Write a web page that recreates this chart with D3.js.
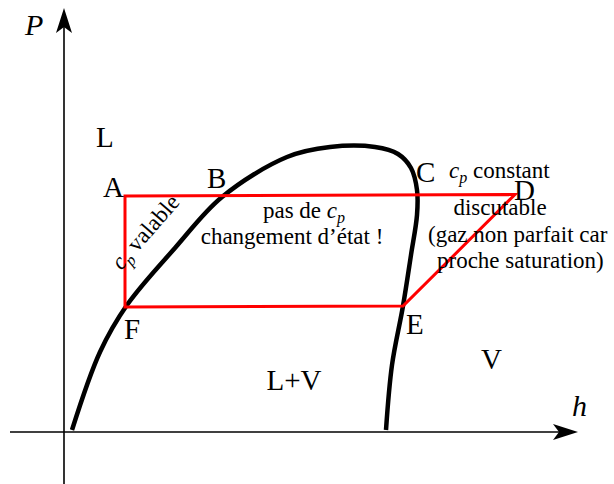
<!DOCTYPE html>
<html>
<head>
<meta charset="utf-8">
<script src="https://cdn.jsdelivr.net/npm/d3@7"></script>
<style>
  body { margin: 0; background: #fff; }
  text { font-family: "Liberation Serif", "DejaVu Serif", serif; fill: #000; }
</style>
</head>
<body>
<div id="chart"></div>
<script>
// saturation dome in (h, P) drawing units, liquid branch then vapour branch
var domeH = [8, 36, 63, 111, 158, 223, 266, 311, 334, 347, 353, 353, 347, 339, 328, 322];
var domeP = [2, 80, 127, 184, 235, 275, 285, 285, 278, 264, 242, 217, 177, 126, 67, 2];

// cycle A -> D -> E -> F
var cycleNames = ["A", "D", "E", "F"];
var cycleH = [61, 451, 339, 61];
var cycleP = [236, 237.5, 126, 125];

// set the dimensions of the graph
var width = 614,
  height = 484;

var x = d3.scaleLinear().domain([0, 514]).range([64, 578]);
var y = d3.scaleLinear().domain([0, 424]).range([432, 8]);

var svg = d3
  .select("#chart")
  .append("svg")
  .attr("width", width)
  .attr("height", height);

// axes
svg
  .append("line")
  .attr("x1", x(-54))
  .attr("x2", x(500))
  .attr("y1", y(0))
  .attr("y2", y(0))
  .style("stroke", "#000")
  .style("stroke-width", 1.6);
svg
  .append("line")
  .attr("x1", x(0))
  .attr("x2", x(0))
  .attr("y1", y(-52))
  .attr("y2", y(410))
  .style("stroke", "#000")
  .style("stroke-width", 1.6);

function arrow(px, py, angle) {
  svg
    .append("path")
    .attr("d", "M0,0 L-25,-8 L-19,0 L-25,8 Z")
    .attr("transform", "translate(" + px + "," + py + ") rotate(" + angle + ")")
    .style("fill", "#000");
}
arrow(x(514), y(0), 0);
arrow(x(0), y(424), -90);

// dome
var line = d3
  .line()
  .x(function (d) { return x(d[0]); })
  .y(function (d) { return y(d[1]); })
  .curve(d3.curveCatmullRom.alpha(0.5));

svg
  .append("path")
  .datum(d3.zip(domeH, domeP))
  .attr("d", line)
  .style("fill", "none")
  .style("stroke", "#000")
  .style("stroke-width", 4.5)
  .style("stroke-linecap", "butt");

// red cycle
svg
  .append("path")
  .datum(d3.zip(cycleH, cycleP))
  .attr("d", d3.line().x(function (d) { return x(d[0]); }).y(function (d) { return y(d[1]); }).curve(d3.curveLinearClosed))
  .style("fill", "none")
  .style("stroke", "#ff0000")
  .style("stroke-width", 3)
  .style("stroke-linejoin", "miter");

// labels
var bigLabels = ["L", "A", "B", "C", "D", "E", "F", "V", "L+V"];
var bigH = [32, 39, 143, 352, 450, 342, 60, 417, 230];
var bigP = [285, 235, 244, 250, 232, 98, 93, 63, 42];

svg
  .selectAll(".big")
  .data(d3.zip(bigLabels, bigH, bigP))
  .enter()
  .append("text")
  .attr("x", function (d) { return x(d[1]); })
  .attr("y", function (d) { return y(d[2]); })
  .attr("text-anchor", function (d) { return d[0] == "L+V" ? "middle" : "start"; })
  .style("font-size", "29px")
  .text(function (d) { return d[0]; });

// axis names
svg.append("text").attr("x", x(-39)).attr("y", y(397)).style("font-size", "30px").style("font-style", "italic").text("P");
svg.append("text").attr("x", x(508)).attr("y", y(16)).style("font-size", "30px").style("font-style", "italic").text("h");

function cp(t) {
  t.append("tspan").style("font-style", "italic").text("c");
  t.append("tspan").style("font-style", "italic").style("font-size", "16px").attr("dy", 5).text("p");
}

var small = "23px";

// pas de cp
var t1 = svg.append("text").attr("x", x(240)).attr("y", y(214)).attr("text-anchor", "middle").style("font-size", small);
t1.append("tspan").text("pas de ");
cp(t1);
svg.append("text").attr("x", x(228)).attr("y", y(188)).attr("text-anchor", "middle").style("font-size", small).text("changement d’état !");

// cp valable (rotated)
var t2 = svg
  .append("text")
  .attr("text-anchor", "middle")
  .attr("transform", "translate(" + x(87) + "," + y(195) + ") rotate(-49)")
  .style("font-size", small);
cp(t2);
t2.append("tspan").attr("dy", -5).text(" valable");

// cp constant discutable
var t3 = svg.append("text").attr("x", x(385)).attr("y", y(254)).style("font-size", small);
cp(t3);
t3.append("tspan").attr("dy", -5).text(" constant");
svg.append("text").attr("x", x(436)).attr("y", y(217)).attr("text-anchor", "middle").style("font-size", small).text("discutable");
svg.append("text").attr("x", x(364)).attr("y", y(190)).style("font-size", small).text("(gaz non parfait car");
svg.append("text").attr("x", x(373)).attr("y", y(164)).style("font-size", small).text("proche saturation)");
</script>
</body>
</html>
